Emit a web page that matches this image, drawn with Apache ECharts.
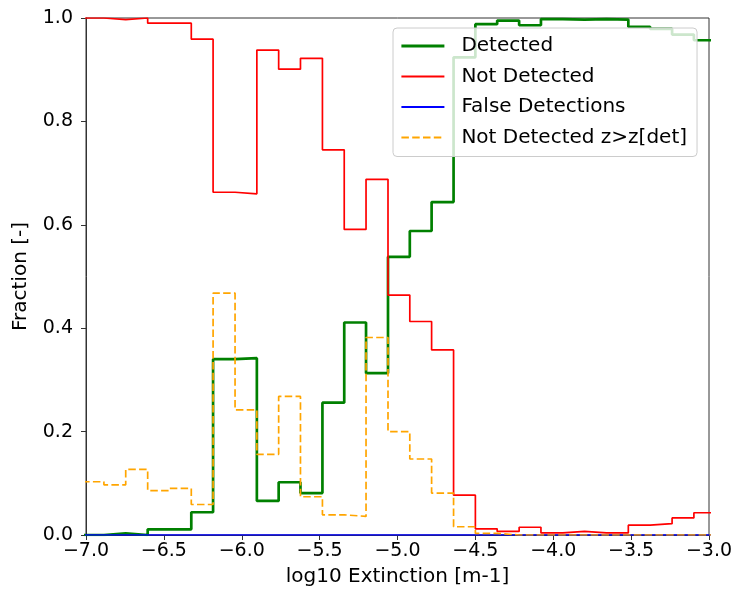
<!DOCTYPE html>
<html>
<head>
<meta charset="utf-8">
<script src="https://cdn.jsdelivr.net/npm/echarts@6/dist/echarts.min.js"></script>
<style>
html,body{margin:0;padding:0;background:#fff;}
#chart{width:737px;height:596px;}
</style>
</head>
<body>
<div id="chart"></div>
<script>
// Bin edges (log10 extinction)
const edges = [-7.025,-6.885,-6.745,-6.604,-6.464,-6.324,-6.184,-6.043,-5.903,-5.763,
  -5.623,-5.482,-5.342,-5.202,-5.061,-4.921,-4.781,-4.640,-4.500,-4.360,
  -4.219,-4.079,-3.939,-3.799,-3.658,-3.518,-3.378,-3.237,-3.097,-2.957];

const detected = [0,0.003,0,0.011,0.011,0.044,0.340,0.342,0.066,0.102,
  0.081,0.256,0.411,0.313,0.538,0.588,0.644,0.924,0.988,0.995,
  0.986,0.998,0.997,0.998,0.997,0.983,0.979,0.968,0.957];

const notDetected = [1.0,0.997,1.0,0.990,0.990,0.959,0.663,0.660,0.938,0.901,
  0.922,0.745,0.591,0.688,0.464,0.413,0.358,0.077,0.012,0.007,
  0.015,0.004,0.007,0.004,0.004,0.019,0.022,0.033,0.043];

const falseDetections = [0,0,0,0,0,0,0,0,0,0,0,0,0,0,0,0,0,0,0,0,0,0,0,0,0,0,0,0,0];

const notDetectedZ = [0.103,0.097,0.127,0.086,0.090,0.059,0.468,0.242,0.156,0.268,
  0.074,0.039,0.036,0.382,0.200,0.147,0.081,0.016,0.003,0,
  0,0,0,0,0,0,0,0,0];

const xTicks = [-7.0,-6.5,-6.0,-5.5,-5.0,-4.5,-4.0,-3.5,-3.0];
const yTicks = [0.0,0.2,0.4,0.6,0.8,1.0];

function stepPoints(vals){
  const pts = [];
  for(let i=0;i<vals.length;i++){
    pts.push([edges[i], vals[i]]);
    pts.push([edges[i+1], vals[i]]);
  }
  return pts;
}

const FONT = 'DejaVu Sans';
const fmt = v => (Math.round(v*10)/10).toFixed(1).replace('-', '\u2212');

const chart = echarts.init(document.getElementById('chart'), null, {renderer:'canvas'});
chart.setOption({
  animation:false,
  backgroundColor:'#fff',
  textStyle:{fontFamily:FONT},
  grid:{left:86,right:28,top:18,bottom:61,show:true,borderColor:'#333',borderWidth:1,backgroundColor:'transparent'},
  legend:{
    orient:'vertical',left:393,top:28,
    padding:[7,10,8,7],
    itemWidth:43,itemHeight:14,itemGap:8.5,
    itemStyle:{opacity:0},
    backgroundColor:'rgba(255,255,255,0.8)',
    borderColor:'#cccccc',borderWidth:1,borderRadius:4,
    textStyle:{fontFamily:FONT,fontSize:20,color:'#000',lineHeight:22,padding:[0,0,0,12]},
    data:[
      {name:'Detected',lineStyle:{width:2.8,color:'#008000'}},
      {name:'Not Detected',lineStyle:{width:1.8,color:'#ff0000'}},
      {name:'False Detections',lineStyle:{width:1.8,color:'#0000ff'}},
      {name:'Not Detected z>z[det]',lineStyle:{width:1.8,color:'#ffa500',type:[7.5,3.3]}}
    ]
  },
  xAxis:{
    type:'value',min:-7,max:-3,interval:0.5,
    name:'log10 Extinction [m-1]',nameLocation:'middle',nameGap:32,
    nameTextStyle:{fontFamily:FONT,fontSize:20,color:'#000'},
    axisLine:{show:true,onZero:false,lineStyle:{color:'#333',width:1}},
    axisTick:{show:true,inside:false,length:5,lineStyle:{color:'#333'}},
    axisLabel:{fontFamily:FONT,fontSize:19,color:'#000',margin:7,formatter:fmt,showMinLabel:true,showMaxLabel:true},
    splitLine:{show:false}
  },
  yAxis:{
    type:'value',min:0,max:1,interval:0.2,
    name:'Fraction [-]',nameLocation:'middle',nameGap:55,
    nameTextStyle:{fontFamily:FONT,fontSize:20,color:'#000'},
    axisLine:{show:true,lineStyle:{color:'#333',width:1}},
    axisTick:{show:true,inside:false,length:5,lineStyle:{color:'#333'}},
    axisLabel:{fontFamily:FONT,fontSize:19,color:'#000',margin:13,formatter:fmt},
    splitLine:{show:false}
  },
  series:[
    {name:'Detected',type:'line',data:stepPoints(detected),symbol:'none',
      lineStyle:{color:'#008000',width:2.7},itemStyle:{color:'#008000'},clip:true},
    {name:'Not Detected',type:'line',data:stepPoints(notDetected),symbol:'none',
      lineStyle:{color:'#ff0000',width:1.7},itemStyle:{color:'#ff0000'},clip:true},
    {name:'False Detections',type:'line',data:stepPoints(falseDetections),symbol:'none',
      lineStyle:{color:'#0000ff',width:1.7},itemStyle:{color:'#0000ff'},clip:true},
    {name:'Not Detected z>z[det]',type:'line',data:stepPoints(notDetectedZ),symbol:'none',
      lineStyle:{color:'#ffa500',width:1.7,type:[7.5,3.3]},itemStyle:{color:'#ffa500'},clip:true}
  ]
});
</script>
</body>
</html>
